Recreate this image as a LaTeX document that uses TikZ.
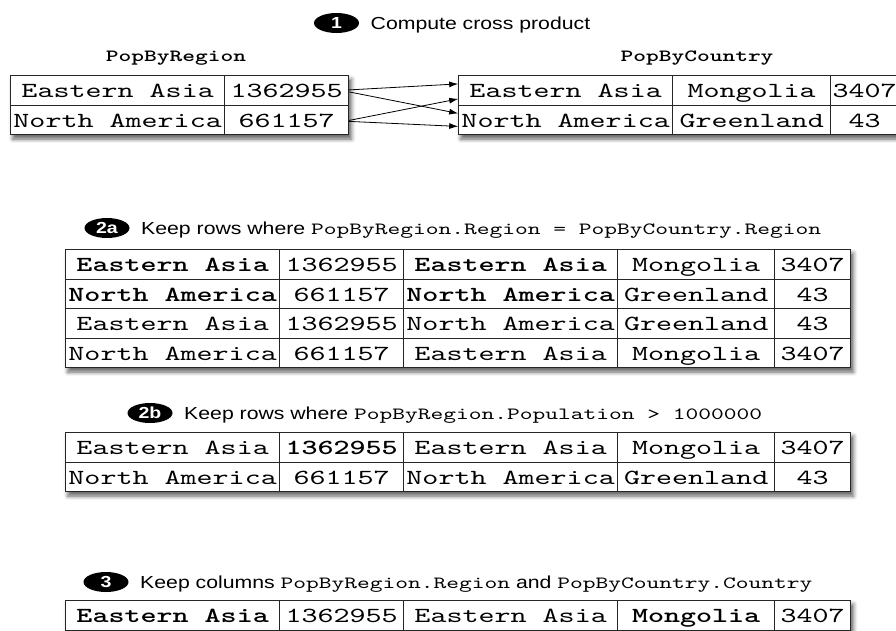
\documentclass[tikz,border=0pt]{standalone}
\usepackage{fontspec}
\setmainfont{Liberation Sans}[FakeStretch=1.22]
\setmonofont{lmmono10-regular.otf}[FakeStretch=1.42, BoldFont=lmmonolt10-bold.otf]
\usepackage{tikz}
\usetikzlibrary{arrows.meta, positioning, shapes.geometric, matrix, shadows.blur}
\definecolor{gridgray}{HTML}{262626}
\newcommand{\cellsize}{\fontsize{21.5}{24}\selectfont}
\newcommand{\lblsize}{\fontsize{17.4}{20}\selectfont}
\newcommand{\codesize}{\fontsize{17.1}{20}\selectfont}

\begin{document}
\begin{tikzpicture}[
    x=1pt, y=-1pt,
    cell/.style={draw=gridgray, line width=0.9pt, font=\cellsize\ttfamily, text height=15pt, text depth=0pt, minimum height=29.5pt, inner xsep=2pt, inner ysep=0pt},
    bcell/.style={font=\cellsize\ttfamily\bfseries},
    tbl/.style={matrix of nodes, nodes={cell}, column sep=-0.9pt, row sep=-0.9pt, inner sep=0pt, fill=white, anchor=north west,
        blur shadow={shadow xshift=2.5pt, shadow yshift=-4pt, shadow blur radius=4pt, shadow opacity=60}},
    joined/.style={tbl,
        column 1/.style={nodes={minimum width=214pt}}, column 2/.style={nodes={minimum width=124pt}},
        column 3/.style={nodes={minimum width=214pt}}, column 4/.style={nodes={minimum width=157pt}},
        column 5/.style={nodes={minimum width=76pt}}},
    ctycols/.style={tbl,
        column 1/.style={nodes={minimum width=214pt}}, column 2/.style={nodes={minimum width=158pt}},
        column 3/.style={nodes={minimum width=68pt}}},
    badge/.style={ellipse, fill=black, text=white, font=\fontsize{16}{18}\selectfont\bfseries, minimum width=45pt, minimum height=20pt, inner sep=0pt},
    steptext/.style={font=\lblsize, anchor=base west},
    ttl/.style={font=\codesize\ttfamily\bfseries, anchor=base},
    link/.style={-{Latex[length=9pt, width=6pt]}, line width=0.8pt, black},
]

\path[use as bounding box] (0,0) rectangle (896,630);
\clip (0,0) rectangle (896,630);

% Step 1: cross product
\node[badge] (b1) at (336.5,23) {1};
\node[steptext] (s1) at ([xshift=8pt, yshift=-6pt]b1.east) {Compute cross product};

\node[ttl] (regname) at (176,61) {PopByRegion};
\node[ttl] (ctyname) at (697,61) {PopByCountry};

\matrix (T0) [joined] at (10,75) {
  Eastern Asia  & 1362955 \\
  North America & 661157  \\
};
\matrix (T1) [ctycols] at (458,75) {
  Eastern Asia  & Mongolia  & 3407 \\
  North America & Greenland & 43   \\
};

% Arrows
\draw[link] ([yshift=0.5pt]T0-1-2.east) -- ([yshift=6.5pt]T1-1-1.west);
\draw[link] ([yshift=-1.5pt]T0-1-2.east) -- ([yshift=6.5pt]T1-2-1.west);
\draw[link] ([yshift=-0.5pt]T0-2-2.east) -- ([yshift=-8.5pt]T1-1-1.west);
\draw[link] ([yshift=-1.5pt]T0-2-2.east) -- ([yshift=-6.5pt]T1-2-1.west);

% Step 2a: matching regions
\node[badge] (b2a) at (107,228) {2a};
\node[steptext] (s2a) at ([xshift=8pt, yshift=-6pt]b2a.east) {Keep rows where {\codesize\ttfamily PopByRegion.Region = PopByCountry.Region}};

\matrix (T2a) [joined] at (65,249) {
  |[bcell]| Eastern Asia  & 1362955 & |[bcell]| Eastern Asia  & Mongolia  & 3407 \\
  |[bcell]| North America & 661157  & |[bcell]| North America & Greenland & 43   \\
  Eastern Asia  & 1362955 & North America & Greenland & 43   \\
  North America & 661157  & Eastern Asia  & Mongolia  & 3407 \\
};

% Step 2b: population filter
\node[badge] (b2b) at (150,413) {2b};
\node[steptext] (s2b) at ([xshift=8pt, yshift=-6pt]b2b.east) {Keep rows where {\codesize\ttfamily PopByRegion.Population > 1000000}};

\matrix (T2b) [joined] at (65,432) {
  Eastern Asia  & |[bcell]| 1362955 & Eastern Asia  & Mongolia  & 3407 \\
  North America & 661157  & North America & Greenland & 43   \\
};

% Step 3: projection
\node[badge] (b3) at (106,582) {3};
\node[steptext] (s3) at ([xshift=8pt, yshift=-6pt]b3.east) {Keep columns {\codesize\ttfamily PopByRegion.Region} and {\codesize\ttfamily PopByCountry.Country}};

\matrix (T3) [joined] at (65,600) {
  |[bcell]| Eastern Asia & 1362955 & Eastern Asia & |[bcell]| Mongolia & 3407 \\
};

\end{tikzpicture}
\end{document}
